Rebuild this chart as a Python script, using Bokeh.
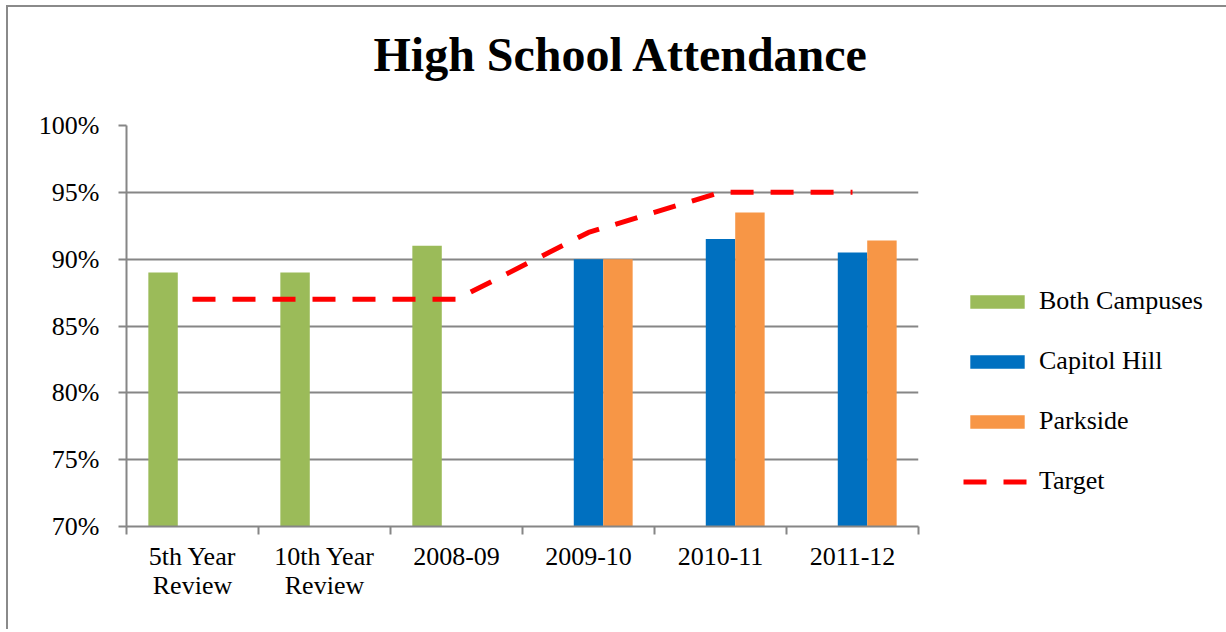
from bokeh.plotting import figure
from bokeh.models import (Range1d, FixedTicker, PrintfTickFormatter, Legend, LegendItem,
                          ColumnDataSource, Title)
from bokeh.transform import dodge
from bokeh.embed import file_html
from bokeh.resources import INLINE

# ---- data ----
categories = ["5th Year\nReview", "10th Year\nReview", "2008-09", "2009-10", "2010-11", "2011-12"]
both_campuses = [89, 89, 91, None, None, None]
capitol_hill = [None, None, None, 90, 91.5, 90.5]
parkside = [None, None, None, 90, 93.5, 91.4]
target = [87, 87, 87, 92, 95, 95]
y_ticks = [70, 75, 80, 85, 90, 95, 100]

FONT = "Liberation Serif"
GRAY = "#868686"

def nan(v):
    return float("nan") if v is None else v

pos = [i + 0.5 for i in range(len(categories))]
src = ColumnDataSource(dict(
    x=pos,
    both=[nan(v) for v in both_campuses],
    cap=[nan(v) for v in capitol_hill],
    park=[nan(v) for v in parkside],
    target=target,
))

p = figure(frame_width=792, frame_height=401, output_backend="svg", toolbar_location=None,
           x_range=Range1d(0, len(categories)), y_range=Range1d(70, 100),
           min_border_left=118, min_border_right=0, min_border_top=118, min_border_bottom=103,
           background_fill_color="white", border_fill_color="white")
p.outline_line_color = None
p.title = None

bw = 0.223
r_both = p.vbar(x=dodge("x", -bw, range=p.x_range), top="both", bottom=70, width=bw,
                source=src, fill_color="#9BBB59", line_color=None)
r_cap = p.vbar(x=dodge("x", 0, range=p.x_range), top="cap", bottom=70, width=bw,
               source=src, fill_color="#0070C0", line_color=None)
r_park = p.vbar(x=dodge("x", bw, range=p.x_range), top="park", bottom=70, width=bw,
                source=src, fill_color="#F79646", line_color=None)
r_target = p.line(x="x", y="target", source=src, line_color="#FF0000", line_width=5,
                  line_dash="23 17")

# axes
xa = p.xaxis[0]
xa.ticker = FixedTicker(ticks=pos, minor_ticks=list(range(len(categories) + 1)))
xa.major_label_overrides = {pos[i]: categories[i] for i in range(len(categories))}
xa.major_tick_out = 0
xa.major_tick_in = 0
xa.minor_tick_out = 8
xa.minor_tick_in = 0
xa.minor_tick_line_color = GRAY
xa.minor_tick_line_width = 2
xa.axis_line_color = GRAY
xa.axis_line_width = 2
xa.major_label_text_font = FONT
xa.major_label_text_font_size = "26px"
xa.major_label_text_color = "black"
xa.major_label_text_line_height = 1.0
xa.major_label_standoff = 7

ya = p.yaxis[0]
ya.ticker = FixedTicker(ticks=y_ticks)
ya.formatter = PrintfTickFormatter(format="%d%%")
ya.major_tick_out = 8
ya.major_tick_in = 0
ya.minor_tick_line_color = None
ya.major_tick_line_color = GRAY
ya.major_tick_line_width = 2
ya.axis_line_color = GRAY
ya.axis_line_width = 2
ya.major_label_text_font = FONT
ya.major_label_text_font_size = "26px"
ya.major_label_text_color = "black"
ya.major_label_standoff = 19

p.xgrid.grid_line_color = None
p.ygrid.grid_line_color = GRAY
p.ygrid.grid_line_width = 2
p.ygrid.ticker = FixedTicker(ticks=y_ticks)

# title: spacer panel next to the frame, then the real title above it
spacer = Title(text=" ", text_font=FONT, text_font_size="10px", standoff=30)
p.add_layout(spacer, "above")
main_title = Title(text="High School Attendance", text_font=FONT, text_font_size="48px",
                   text_font_style="bold", text_color="black", align="left",
                   vertical_align="top", offset=247, standoff=0)
p.add_layout(main_title, "above")

# legend
legend = Legend(items=[
    LegendItem(label="Both Campuses", renderers=[r_both]),
    LegendItem(label="Capitol Hill", renderers=[r_cap]),
    LegendItem(label="Parkside", renderers=[r_park]),
    LegendItem(label="Target", renderers=[r_target]),
], location=(45, 30), orientation="vertical",
   label_text_font=FONT, label_text_font_size="26px", label_text_color="black",
   glyph_width=68, glyph_height=17, label_standoff=8, spacing=30,
   padding=0, margin=0, border_line_color=None, background_fill_alpha=0)
p.add_layout(legend, "right")

p.styles = {"margin-left": "6px", "margin-top": "5px",
            "border-left": "2px solid #8a8a8a", "border-top": "2px solid #8a8a8a"}

open("out.html", "w").write(file_html(p, INLINE))
